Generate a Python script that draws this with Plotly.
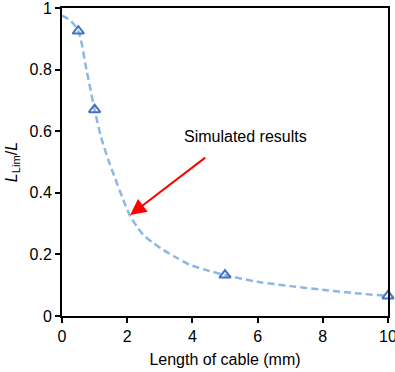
import plotly.graph_objects as go

# Simulated curve
curve_x = [0, 0.25, 0.5, 0.75, 1.0, 1.2, 1.42, 1.6, 1.88, 2.09, 2.3, 2.5, 2.8, 3.1, 3.5, 3.93, 4.5, 5, 6, 7, 8, 9, 10]
curve_y = [0.975, 0.96, 0.925, 0.80, 0.67, 0.58, 0.507, 0.455, 0.377, 0.325, 0.29, 0.263, 0.237, 0.215, 0.19, 0.166, 0.147, 0.133, 0.111, 0.097, 0.085, 0.074, 0.065]

# Marker points
pts_x = [0.5, 1, 5, 10]
pts_y = [0.925, 0.67, 0.133, 0.065]

x_ticks = [0, 2, 4, 6, 8, 10]
y_ticks = [0, 0.2, 0.4, 0.6, 0.8, 1]

FONT = "Liberation Sans, Arial, sans-serif"
FS = 16

fig = go.Figure()
fig.add_trace(go.Scatter(
    x=curve_x, y=curve_y, mode="lines",
    line=dict(color="#8DB8E3", width=2.5, dash="7px,4px", shape="spline", smoothing=0.8),
    hoverinfo="skip", cliponaxis=False,
))
fig.add_trace(go.Scatter(
    x=pts_x, y=pts_y, mode="markers",
    marker=dict(symbol="triangle-up-open", size=10, color="#4472C4", line=dict(width=2, color="#4472C4")),
    cliponaxis=False,
))

fig.add_annotation(
    x=2.09, y=0.328, ax=4.44, ay=0.518, axref="x", ayref="y", xref="x", yref="y",
    text="", showarrow=True, arrowhead=2, arrowsize=1.6, arrowwidth=2, arrowcolor="#FF0000",
)
fig.add_annotation(
    x=5.64, y=0.582, xref="x", yref="y", text="Simulated results", showarrow=False,
    font=dict(family=FONT, size=FS, color="#000000"),
)

axis_common = dict(
    showline=True, linecolor="#000000", linewidth=2, mirror=True,
    ticks="outside", ticklen=5, tickwidth=2, tickcolor="#000000",
    showgrid=False, zeroline=False, automargin=False, ticklabeloverflow="allow",
    tickfont=dict(family=FONT, size=FS, color="#000000"),
)

fig.update_xaxes(
    range=[0, 10], tickvals=x_ticks, ticktext=[str(v) for v in x_ticks],
    title=dict(text="Length of cable (mm)", font=dict(family=FONT, size=FS, color="#000000"), standoff=10),
    **axis_common,
)
fig.update_yaxes(
    range=[0, 1], tickvals=y_ticks, ticktext=["0", "0.2", "0.4", "0.6", "0.8", "1"],
    title=dict(text="<i>L</i><sub>Lim</sub>/<i>L</i>", font=dict(family=FONT, size=FS, color="#000000"), standoff=8),
    **axis_common,
)

fig.update_layout(
    width=395, height=372,
    margin=dict(l=62, r=7, t=8, b=56),
    plot_bgcolor="#FFFFFF", paper_bgcolor="#FFFFFF",
    showlegend=False,
)

fig.write_html("out.html")
